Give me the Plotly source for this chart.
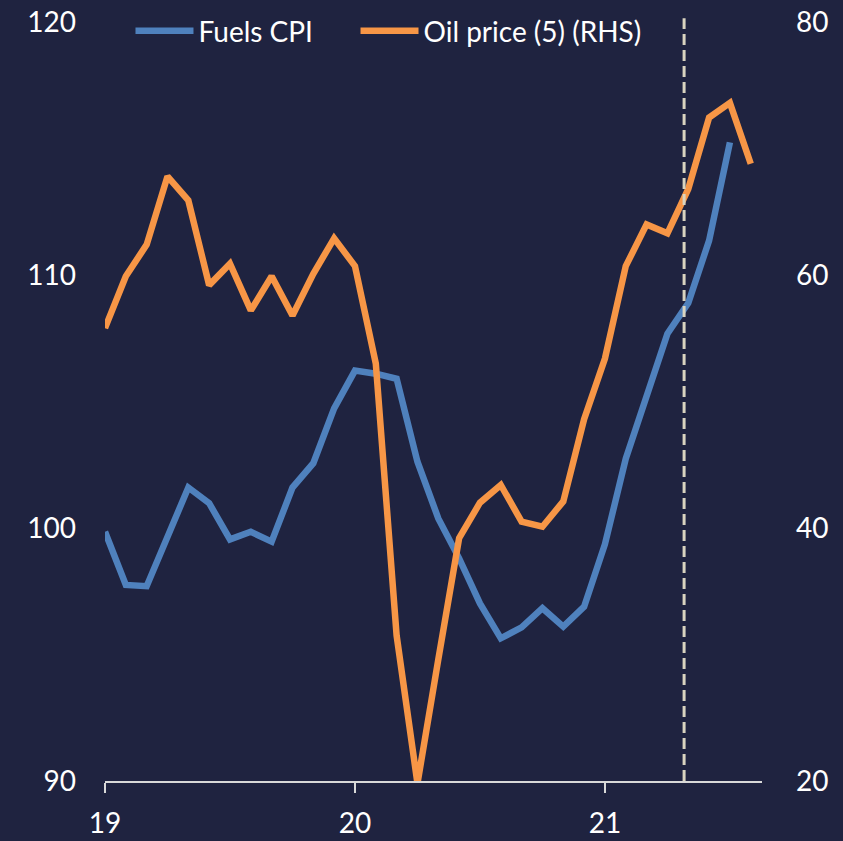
import plotly.graph_objects as go

# ---- data (monthly, Jan 2019 onward) ----
months = [f"{y}-{m:02d}" for y in (2019, 2020, 2021) for m in range(1, 13)][:32]
fuels_cpi = [99.85, 97.75, 97.7, 99.7, 101.6, 100.98, 99.55, 99.85, 99.46, 101.6,
             102.56, 104.73, 106.22, 106.1, 105.9, 102.62, 100.38, 98.8, 97.02, 95.64,
             96.07, 96.83, 96.1, 96.89, 99.36, 102.74, 105.28, 107.68, 108.89, 111.36,
             115.24]
oil_price = [55.8, 59.9, 62.4, 67.8, 65.9, 59.2, 60.9, 57.2, 59.9, 56.8,
             60.1, 62.9, 60.7, 53.0, 31.5, 19.8, 29.6, 39.2, 42.0, 43.4,
             40.5, 40.1, 42.1, 48.6, 53.4, 60.7, 64.0, 63.3, 66.8, 72.45,
             73.6, 68.8]
tick_labels = ["19", "20", "21"]
tick_months = ["2019-01", "2020-01", "2021-01"]
marker_month = 27.8  # dashed vertical line (month index)

idx = {m: i for i, m in enumerate(months)}
x_fuels = [idx[m] for m in months[:len(fuels_cpi)]]
x_oil = [idx[m] for m in months[:len(oil_price)]]

BG = "#1f2340"
BLUE = "#4f81bd"
ORANGE = "#f79646"
FONT = "Lato, Open Sans, sans-serif"

fig = go.Figure()
fig.add_trace(go.Scatter(x=x_fuels, y=fuels_cpi, name="Fuels CPI", mode="lines",
                         line=dict(color=BLUE, width=6.5), yaxis="y", legend="legend"))
fig.add_trace(go.Scatter(x=x_oil, y=oil_price, name="Oil price (5) (RHS)", mode="lines",
                         line=dict(color=ORANGE, width=6.5), yaxis="y2", legend="legend2"))

fig.add_shape(type="line", xref="x", yref="paper", x0=marker_month, x1=marker_month,
              y0=0, y1=1.005, line=dict(color="#d9d4c0", width=3, dash="11px,5px"),
              layer="above")

legend_common = dict(orientation="h", y=0.988, xanchor="left", yanchor="middle",
                     bgcolor="rgba(0,0,0,0)", font=dict(size=28, color="white"),
                     itemwidth=58)

fig.update_layout(
    width=843, height=841,
    margin=dict(l=105, r=81, t=22, b=60, autoexpand=False),
    paper_bgcolor=BG, plot_bgcolor=BG,
    font=dict(family=FONT, size=28, color="white"),
    showlegend=True,
    legend=dict(x=0.0388, **legend_common),
    legend2=dict(x=0.3813, **legend_common),
    xaxis=dict(range=[0, 31.54], tickvals=[idx[m] for m in tick_months], ticktext=tick_labels,
               showgrid=False, zeroline=False, showline=True, linecolor="#d9d9d9",
               linewidth=1.5, ticks="outside", ticklen=10, tickwidth=1.5,
               tickcolor="#d9d9d9", ticklabelstandoff=7),
    yaxis=dict(range=[90, 120], dtick=10, showgrid=False, zeroline=False,
               showline=False, ticks="", ticklabelstandoff=28),
    yaxis2=dict(range=[20, 80], dtick=20, overlaying="y", side="right", showgrid=False,
                zeroline=False, showline=False, ticks="", ticklabelstandoff=33),
)

fig.write_html("out.html", config={"displayModeBar": False},
               post_script="document.body.style.margin='0';document.body.style.overflow='hidden';")
